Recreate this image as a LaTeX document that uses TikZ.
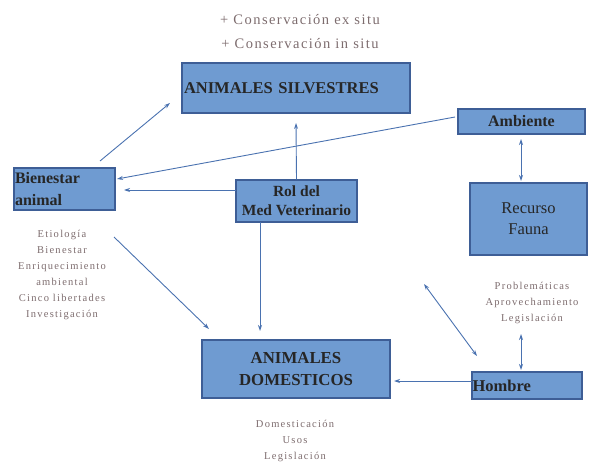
\documentclass[tikz,border=0pt]{standalone}
\usepackage{fontspec}
\setmainfont{Liberation Serif}
\usetikzlibrary{arrows.meta}
\definecolor{boxfill}{RGB}{111,155,209}
\definecolor{boxline}{RGB}{62,94,150}
\definecolor{arrowc}{RGB}{74,114,176}
\definecolor{notec}{RGB}{125,108,110}
\tikzset{
  blue box/.style={draw=boxline, line width=1.2pt, fill=boxfill, inner sep=0pt, font=\bfseries, text=black!85},
  conn/.style={draw=arrowc, line width=0.9pt, -{Stealth[length=6pt,width=4pt]}},
  dconn/.style={draw=arrowc, line width=0.9pt, {Stealth[length=6pt,width=4pt]}-{Stealth[length=6pt,width=4pt]}},
  note/.style={text=notec, align=center, inner sep=0pt, font=\fontsize{10.5}{16}\selectfont\addfontfeatures{LetterSpace=12}},
}
\begin{document}
\begin{tikzpicture}[x=1pt,y=-1pt]
\useasboundingbox (0,0) rectangle (601,462);
% boxes
\node[blue box, minimum width=228pt, minimum height=50pt, text width=224pt, align=left, font=\bfseries\fontsize{16.5}{19}\selectfont] (silv) at (296,88) {ANIMALES SILVESTRES};
\node[blue box, minimum width=127pt, minimum height=25pt, font=\bfseries\fontsize{16}{18}\selectfont] (amb) at (521.5,121.5) {Ambiente};
\node[blue box, minimum width=101pt, minimum height=42pt, text width=99pt, align=left, font=\bfseries\fontsize{16}{22}\selectfont] (bien) at (64.5,189) {Bienestar\\animal};
\node[blue box, minimum width=121pt, minimum height=42pt, align=center, font=\bfseries\fontsize{15.5}{19}\selectfont] (rol) at (296.5,201) {Rol del\\Med Veterinario};
\node[blue box, minimum width=117pt, minimum height=72pt, align=center, font=\fontsize{16.5}{21}\selectfont] (rec) at (528.5,219) {Recurso\\Fauna};
\node[blue box, minimum width=188pt, minimum height=58pt, align=center, font=\bfseries\fontsize{16.8}{22}\selectfont] (dom) at (296,369) {ANIMALES\\DOMESTICOS};
\node[blue box, minimum width=110pt, minimum height=27pt, text width=109pt, align=left, font=\bfseries\fontsize{16.5}{18}\selectfont] (hom) at (527,385.5) {Hombre};
% notes
\node[note, font=\fontsize{14.5}{24}\selectfont\addfontfeatures{LetterSpace=10}] (cons) at (300,32) {+ Conservación ex situ\\+ Conservación in situ};
\node[note] (bnotes) at (62,275) {Etiología\\Bienestar\\Enriquecimiento\\ambiental\\Cinco libertades\\Investigación};
\node[note] (hnotes) at (532,303) {Problemáticas\\Aprovechamiento\\Legislación};
\node[note] (dnotes) at (295,441) {Domesticación\\Usos\\Legislación};
% connector end points
\coordinate (a1s) at (100,161);
\coordinate (a1e) at (170,103);
\coordinate (ambw) at (455,117);
\coordinate (biene) at (117,179);
\coordinate (silvb) at (296,123);
\coordinate (rolw) at (236,190);
\coordinate (bienr) at (124,190);
\coordinate (rolb) at (260,222);
\coordinate (domt) at (260,331);
\coordinate (a6s) at (114,237);
\coordinate (a6e) at (209,329);
\coordinate (homw) at (472,381);
\coordinate (dome) at (394,381);
\coordinate (d1s) at (424,284);
\coordinate (d1e) at (477,356);
\coordinate (d2s) at (521,334);
\coordinate (homt) at (521,370);
\coordinate (ambb) at (521,139);
\coordinate (rect) at (521,181);
% connectors
\draw[conn] (a1s) -- (a1e);
\draw[conn] (ambw) -- (biene);
\draw[conn] (rol.north) -- (silvb);
\draw[conn] (rolw) -- (bienr);
\draw[conn] (rolb) -- (domt);
\draw[conn] (a6s) -- (a6e);
\draw[conn] (homw) -- (dome);
\draw[dconn] (d1s) -- (d1e);
\draw[dconn] (d2s) -- (homt);
\draw[dconn] (ambb) -- (rect);
\end{tikzpicture}
\end{document}
